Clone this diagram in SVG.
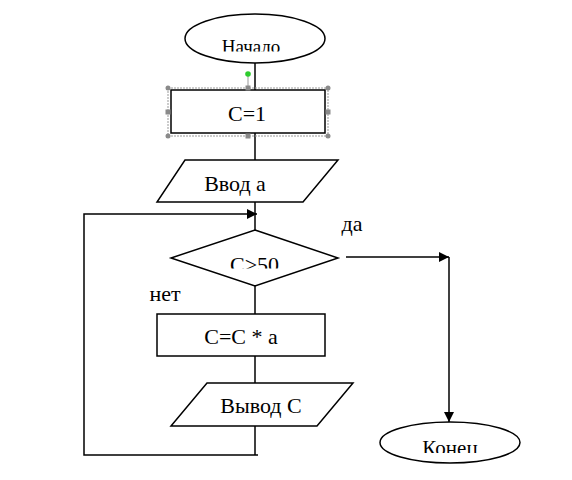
<svg xmlns="http://www.w3.org/2000/svg" width="572" height="480" viewBox="0 0 572 480">
<style>
.s{fill:#fff;stroke:#000;stroke-width:1.5}
.l{fill:none;stroke:#000;stroke-width:1.5}
.t{font-family:"Liberation Serif","Times New Roman",serif;font-size:22px;fill:#000;text-anchor:middle}
.h{fill:#8a8a8a}
</style>
<defs>
<marker id="arr" viewBox="0 0 10 10" refX="10" refY="5" markerWidth="10" markerHeight="10" markerUnits="userSpaceOnUse" orient="auto">
<path d="M0,0 L10,5 L0,10 z" fill="#000"/>
</marker>
<clipPath id="c1"><rect x="180" y="14" width="150" height="37.5"/></clipPath>
<clipPath id="c2"><rect x="170" y="230" width="170" height="38.5"/></clipPath>
<clipPath id="c3"><rect x="380" y="422" width="145" height="31"/></clipPath>
</defs>
<rect width="572" height="480" fill="#fff"/>
<g id="connectors">
<line class="l" x1="255" y1="63" x2="255" y2="90"/>
<line class="l" x1="255" y1="133" x2="255" y2="160"/>
<line class="l" x1="255" y1="202" x2="255" y2="230"/>
<polyline class="l" points="258,455 84,455 84,214 257,214" marker-end="url(#arr)"/>
<line class="l" x1="255" y1="286" x2="255" y2="314"/>
<line class="l" x1="255" y1="356" x2="255" y2="383"/>
<line class="l" x1="255" y1="426" x2="255" y2="455"/>
<line class="l" x1="346" y1="257" x2="449" y2="257" marker-end="url(#arr)"/>
<line class="l" x1="449" y1="257" x2="449" y2="422" marker-end="url(#arr)"/>
</g>
<g id="start">
<ellipse class="s" cx="255" cy="38.5" rx="70" ry="24.5"/>
<text class="t" x="251" y="53" style="font-size:19px" clip-path="url(#c1)">Начало</text>
</g>
<g id="init">
<rect class="s" x="171" y="90" width="154" height="43"/>
<text class="t" x="247" y="121">C=1</text>
<g id="selection">
<rect x="168" y="88" width="160" height="48" fill="none" stroke="#999" stroke-width="1" stroke-dasharray="2,1"/>
<line x1="248" y1="76" x2="248" y2="88" stroke="#999" stroke-width="1"/>
<circle cx="248" cy="74" r="2.8" fill="#2ecc2e"/>
<circle class="h" cx="168" cy="88" r="2.5"/>
<circle class="h" cx="328" cy="88" r="2.5"/>
<circle class="h" cx="168" cy="136" r="2.5"/>
<circle class="h" cx="328" cy="136" r="2.5"/>
<rect class="h" x="245.5" y="85.5" width="5" height="5"/>
<rect class="h" x="245.5" y="133.5" width="5" height="5"/>
<rect class="h" x="165.5" y="109.5" width="5" height="5"/>
<rect class="h" x="325.5" y="109.5" width="5" height="5"/>
</g>
</g>
<g id="input">
<polygon class="s" points="185,160 338,160 303,202 157,202"/>
<text class="t" x="235" y="191">Ввод а</text>
</g>
<g id="decision">
<polygon class="s" points="255,230 338,258 255,286 171,258"/>
<text class="t" x="254.5" y="272" clip-path="url(#c2)">C&gt;50</text>
</g>
<g id="multiply">
<rect class="s" x="157" y="314" width="168" height="42"/>
<text class="t" x="241" y="344">C=C * a</text>
</g>
<g id="output">
<polygon class="s" points="207,383 353,383 317,426 171,426"/>
<text class="t" x="261" y="413">Вывод С</text>
</g>
<g id="end">
<ellipse class="s" cx="450" cy="442.5" rx="70" ry="20.5"/>
<text class="t" x="450" y="454.5" style="font-size:21px" clip-path="url(#c3)">Конец</text>
</g>
<g id="labels">
<text class="t" x="352" y="231">да</text>
<text class="t" x="165" y="301">нет</text>
</g>
</svg>
